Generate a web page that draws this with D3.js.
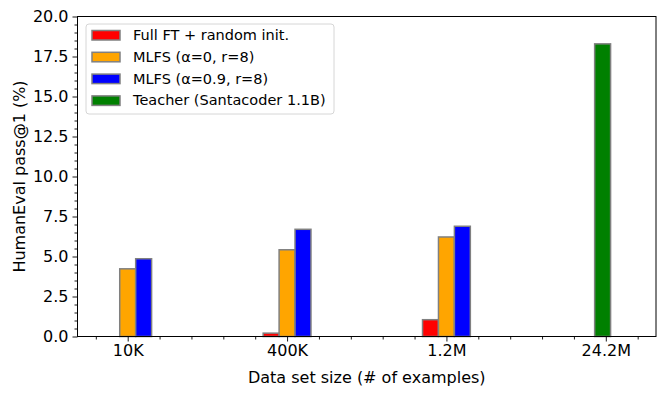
<!DOCTYPE html>
<html lang="en">
<head>
  <meta charset="UTF-8">
  <title>HumanEval pass@1</title>
  <style>
    body { margin: 0; background: #fff; }
    svg { display: block; font-family: "DejaVu Sans", sans-serif; }
  </style>
</head>
<body>
  <script src="https://d3js.org/d3.v7.min.js"></script>
  <script>
    // data
    const sizes = ['10K', '400K', '1.2M', '24.2M']
    const seriesNames = ['Full FT + random init.', 'MLFS (\u03b1=0, r=8)', 'MLFS (\u03b1=0.9, r=8)', 'Teacher (Santacoder 1.1B)']
    const seriesColors = ['red', 'orange', 'blue', 'green']
    const fullFT = [0, 0.21, 1.05, 0]
    const mlfs0 = [4.23, 5.42, 6.22, 0]
    const mlfs09 = [4.86, 6.70, 6.89, 0]
    const teacher = [null, null, null, 18.29]
    const yTicks = [0, 2.5, 5, 7.5, 10, 12.5, 15, 17.5, 20]

    const width = 665, height = 395
    const margin = { top: 16.5, right: 9, bottom: 58.5, left: 77.5 }
    const barW = 0.1
    const fs = 16      // ticks + axis titles
    const legFs = 14.5 // legend

    const svg = d3.select('body').append('svg')
      .attr('width', width)
      .attr('height', height)

    // x is a linear position scale, like matplotlib's bar positions
    const x = d3.scaleLinear()
      .domain([-0.315, 3.315])
      .range([margin.left, width - margin.right])
    const y = d3.scaleLinear()
      .domain([0, 20])
      .range([height - margin.bottom, margin.top])

    const g = svg.append('g')

    // offsets of each series inside a group
    const series = [
      { vals: fullFT, off: -barW },
      { vals: mlfs0, off: 0 },
      { vals: mlfs09, off: barW },
      { vals: teacher, off: -0.02 }
    ]

    series.forEach((s, si) => {
      g.append('g')
        .selectAll('rect')
        .data(s.vals.map((v, i) => ({ v, i })).filter(d => d.v !== null))
        .join('rect')
        .attr('x', d => x(d.i + s.off - barW / 2))
        .attr('width', d => x(d.i + s.off + barW / 2) - x(d.i + s.off - barW / 2))
        .attr('y', d => y(d.v))
        .attr('height', d => y(0) - y(d.v))
        .attr('fill', seriesColors[si])
        .attr('stroke', '#808080')
        .attr('stroke-width', 1.5)
    })

    // axes
    const xAxis = svg.append('g')
      .attr('transform', `translate(0,${y(0)})`)
      .call(d3.axisBottom(x).tickValues([0, 1, 2, 3]).tickFormat(i => sizes[i]).tickSize(5).tickPadding(3))
    const xMinor = svg.append('g')
      .attr('transform', `translate(0,${y(0)})`)
      .call(d3.axisBottom(x).tickValues(d3.range(-0.2, 3.31, 0.2).filter(v => Math.abs(v - Math.round(v)) > 0.01)).tickFormat('').tickSize(3))
    const yAxis = svg.append('g')
      .attr('transform', `translate(${margin.left},0)`)
      .call(d3.axisLeft(y).tickValues(yTicks).tickFormat(d3.format('.1f')).tickSize(5).tickPadding(4))
    const yMinor = svg.append('g')
      .attr('transform', `translate(${margin.left},0)`)
      .call(d3.axisLeft(y).tickValues(d3.range(0, 20.01, 0.5).filter(v => v % 2.5 !== 0)).tickFormat('').tickSize(3))

    ;[xAxis, xMinor, yAxis, yMinor].forEach(a => {
      a.select('.domain').remove()
      a.selectAll('text').attr('font-size', fs).attr('fill', '#000')
        .style('font-family', '"DejaVu Sans", sans-serif')
      a.selectAll('line').attr('stroke', '#000').attr('stroke-width', 0.9)
    })

    // frame
    svg.append('rect')
      .attr('x', margin.left)
      .attr('y', margin.top)
      .attr('width', width - margin.right - margin.left)
      .attr('height', y(0) - margin.top)
      .attr('fill', 'none')
      .attr('stroke', '#000')
      .attr('stroke-width', 1)

    // axis labels
    svg.append('text')
      .attr('x', (margin.left + width - margin.right) / 2)
      .attr('y', 383)
      .attr('text-anchor', 'middle')
      .attr('font-size', fs)
      .text('Data set size (# of examples)')

    svg.append('text')
      .attr('transform', `translate(25,${(margin.top + y(0)) / 2}) rotate(-90)`)
      .attr('text-anchor', 'middle')
      .attr('font-size', fs)
      .text('HumanEval pass@1 (%)')

    // legend
    const leg = svg.append('g').attr('transform', 'translate(86,24)')
    leg.append('rect')
      .attr('width', 248)
      .attr('height', 90)
      .attr('rx', 3)
      .attr('fill', 'rgba(255,255,255,0.8)')
      .attr('stroke', '#d6d6d6')
      .attr('stroke-width', 1)

    seriesNames.forEach((name, i) => {
      const row = leg.append('g').attr('transform', `translate(0,${11 + i * 21.8})`)
      row.append('rect')
        .attr('x', 6)
        .attr('y', -4.5)
        .attr('width', 28)
        .attr('height', 9.5)
        .attr('fill', seriesColors[i])
        .attr('stroke', '#808080')
        .attr('stroke-width', 1.5)
      row.append('text')
        .attr('x', 47)
        .attr('y', 0)
        .attr('dy', '0.35em')
        .attr('font-size', legFs)
        .text(name)
    })
  </script>
</body>
</html>
